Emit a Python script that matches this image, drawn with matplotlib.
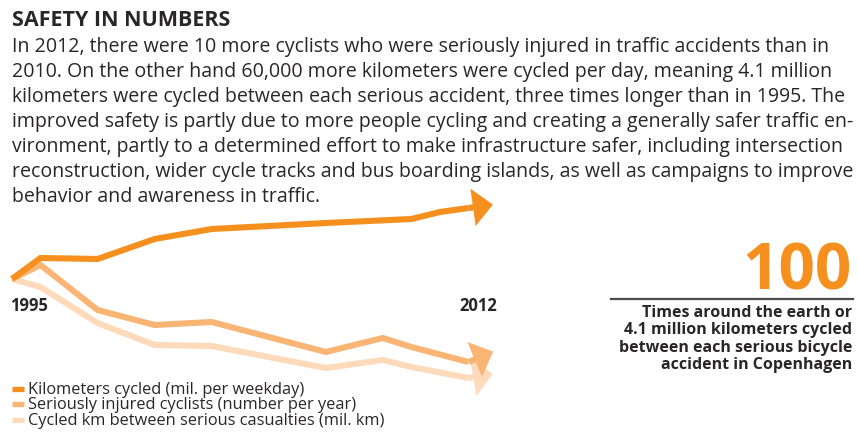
import matplotlib
matplotlib.use("Agg")
from matplotlib import pyplot as plt

# index values (1995 = 100)
km_years = [1995, 1996, 1998, 2000, 2002, 2006, 2009, 2010, 2011, 2012]
km_cycled = [100, 121, 120, 140, 150, 156, 160, 167, 171, 175]

inj_years = [1995, 1996, 1998, 2000, 2002, 2006, 2008, 2009, 2011, 2012]
injured = [100, 114, 69, 54, 57, 27, 41, 32, 17, 29]

dist_years = [1995, 1996, 1998, 2000, 2002, 2006, 2008, 2009, 2011, 2012]
km_between = [100, 92, 56, 34, 33, 11, 19, 12, 1, 6]

labels = ["Kilometers cycled (mil. per weekday)",
          "Seriously injured cyclists (number per year)",
          "Cycled km between serious casualties (mil. km)"]
colors = ["#F5901E", "#FAB575", "#FDDABA"]

title = "SAFETY IN NUMBERS"
body = [
    "In 2012, there were 10 more cyclists who were seriously injured in traffic accidents than in",
    "2010. On the other hand 60,000 more kilometers were cycled per day, meaning 4.1 million",
    "kilometers were cycled between each serious accident, three times longer than in 1995. The",
    "improved safety is partly due to more people cycling and creating a generally safer traffic en-",
    "vironment, partly to a determined effort to make infrastructure safer, including intersection",
    "reconstruction, wider cycle tracks and bus boarding islands, as well as campaigns to improve",
    "behavior and awareness in traffic.",
]
big_number = "100"
big_caption = ["Times around the earth or",
               "4.1 million kilometers cycled",
               "between each serious bicycle",
               "accident in Copenhagen"]

W, H = 859, 437
TXT = "#2a2627"
FONT = ["Open Sans", "DejaVu Sans"]

fig = plt.figure(figsize=(W / 100, H / 100), dpi=100)
fig.patch.set_facecolor("white")


def fx(px):
    return px / W


def fy(py):
    return 1 - py / H


# axes fills the figure; 1995 sits at x=12px, 2012 at x=497px, 1 unit = 1px vertically
ax = fig.add_axes([0, 0, 1, 1])
ppy = (497 - 12) / 17
ax.set_xlim(1995 - 12 / ppy, 2012 + (W - 497) / ppy)
ax.set_ylim(379 - H, 379)
ax.axis("off")

series = [(km_years, km_cycled), (inj_years, injured), (dist_years, km_between)]
for (yrs, vals), col, z in zip(series, colors, [3, 2, 1]):
    ax.plot(yrs[:-1], vals[:-1], color=col, lw=4.4, solid_capstyle="butt",
            solid_joinstyle="miter", zorder=z)
    ax.annotate("", xy=(yrs[-1], vals[-1]), xytext=(yrs[-2], vals[-2]),
                arrowprops=dict(arrowstyle="-|>,head_length=9,head_width=8.5",
                                mutation_scale=1, color=col, lw=4.4,
                                shrinkA=0, shrinkB=3, capstyle="butt",
                                joinstyle="miter"),
                zorder=z)

ax.text(1995 - 2 / ppy, 379 - 311, "1995", fontsize=12, fontweight="bold",
        color=TXT, family=FONT, ha="left", va="baseline")
ax.text(2012, 379 - 311, "2012", fontsize=12, fontweight="bold",
        color=TXT, family=FONT, ha="right", va="baseline")

# legend keys, stacked tightly like the print layout
for i, (lab, col) in enumerate(zip(labels, colors)):
    base = 393.5 + 15.6 * i
    fig.add_artist(plt.Line2D([fx(12), fx(24)], [fy(base - 5), fy(base - 5)],
                              color=col, lw=3.8, solid_capstyle="butt",
                              transform=fig.transFigure))
    fig.text(fx(28), fy(base), lab, fontsize=11.8, color=TXT, family=FONT,
             va="baseline")

# heading and paragraph
fig.text(fx(12), fy(26), title, fontsize=15.5, fontweight="bold", color=TXT,
         family=FONT, va="baseline")
for i, line in enumerate(body):
    fig.text(fx(12), fy(52 + 25 * i), line, fontsize=14.05, color=TXT,
             family=FONT, va="baseline")

# right call-out
fig.text(fx(851), fy(290), big_number, fontsize=46, fontweight="bold",
         color=colors[0], family=FONT, ha="right", va="baseline")
fig.add_artist(plt.Line2D([fx(611), fx(853)], [fy(299), fy(299)],
                          color="#4d4d4d", lw=1.6, transform=fig.transFigure))
for i, line in enumerate(big_caption):
    fig.text(fx(852), fy(317 + 17.3 * i), line, fontsize=11.5, fontweight="bold",
             color=TXT, family=FONT, ha="right", va="baseline")

fig.savefig("out.png", dpi=100, facecolor="white")
